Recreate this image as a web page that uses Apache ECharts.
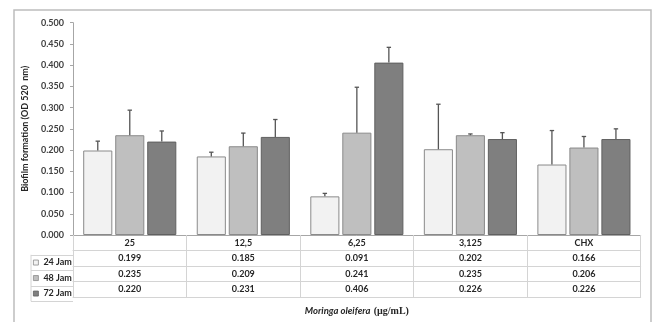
<!DOCTYPE html>
<html>
<head>
<meta charset="utf-8">
<script src="https://cdn.jsdelivr.net/npm/echarts@6/dist/echarts.min.js"></script>
<style>
  html, body { margin: 0; padding: 0; background: #fff; }
  #chart { width: 656px; height: 322px; }
</style>
</head>
<body>
<div id="chart"></div>
<script>
// Concentrations of Moringa oleifera extract (and CHX control)
const categories = ['25', '12,5', '6,25', '3,125', 'CHX'];
const seriesNames = ['24 Jam', '48 Jam', '72 Jam'];

// Mean biofilm formation (OD 520 nm)
const jam24 = [0.199, 0.185, 0.091, 0.202, 0.166];
const jam48 = [0.235, 0.209, 0.241, 0.235, 0.206];
const jam72 = [0.220, 0.231, 0.406, 0.226, 0.226];

// Standard deviation (upper whisker)
const err24 = [0.022, 0.010, 0.007, 0.106, 0.080];
const err48 = [0.059, 0.031, 0.107, 0.003, 0.026];
const err72 = [0.025, 0.041, 0.036, 0.015, 0.024];

const yTicks = [0, 0.05, 0.1, 0.15, 0.2, 0.25, 0.3, 0.35, 0.4, 0.45, 0.5];

const means = [jam24, jam48, jam72];
const errs = [err24, err48, err72];
const colors = ['#f2f2f2', '#bfbfbf', '#7f7f7f'];
const borders = ['#8a8a8a', '#8a8a8a', '#606060'];

const FONT = 'Lato';
const G = { left: 73, right: 15.3, top: 22.7, bottom: 82.7 };
const ROW = 15.5;
const BAR_CAT_GAP = 0.18, BAR_GAP = 0.10;

const chart = echarts.init(document.getElementById('chart'), null, { renderer: 'canvas' });

const baseY = 322 - G.bottom;

// Header row + one axis per data row + closing line of the table
const tableRows = [categories].concat(means.map(arr => arr.map(v => v.toFixed(3))));
const xAxes = tableRows.map((row, r) => ({
  type: 'category',
  data: categories,
  position: 'bottom',
  offset: r * ROW,
  gridIndex: 0,
  axisLine: { show: true, lineStyle: { color: r === 0 ? '#a6a6a6' : '#d4d4d4', width: 1 } },
  axisTick: { show: true, interval: 0, inside: false, length: ROW, lineStyle: { color: '#d4d4d4', width: 1 } },
  axisLabel: {
    interval: 0, margin: 2.5,
    fontFamily: FONT, fontWeight: 'bold', fontSize: 9, color: '#262626', lineHeight: 11,
    formatter: (v, i) => row[i]
  },
  splitLine: { show: false }
}));
xAxes.push({
  type: 'category',
  data: categories,
  position: 'bottom',
  offset: tableRows.length * ROW,
  axisLine: { show: true, lineStyle: { color: '#d4d4d4', width: 1 } },
  axisTick: { show: false },
  axisLabel: { show: false },
  name: '{i|Moringa oleifera} {s|(µg/mL)}',
  nameLocation: 'middle',
  nameGap: 8,
  nameTextStyle: {
    rich: {
      i: { fontFamily: FONT, fontStyle: 'italic', fontWeight: 'bold', fontSize: 9.5, color: '#262626' },
      s: { fontFamily: 'Liberation Serif', fontWeight: 'bold', fontSize: 10, color: '#262626' }
    }
  }
});

// Upper whiskers, placed over each bar of a group
function errorSeries(k) {
  return {
    type: 'custom',
    name: seriesNames[k] + ' SD',
    xAxisIndex: 0,
    z: 5,
    silent: true,
    data: means[k].map((v, i) => [i, v, v + errs[k][i]]),
    renderItem: function (params, api) {
      const band = api.size([1, 0])[0];
      const usable = band * (1 - BAR_CAT_GAP);
      const bw = usable / (3 + 2 * BAR_GAP);
      const start = -usable / 2 + bw / 2;
      const off = start + k * bw * (1 + BAR_GAP);
      const base = api.coord([api.value(0), api.value(1)]);
      const top = api.coord([api.value(0), api.value(2)]);
      const x = base[0] + off;
      const cap = 2.2;
      const style = { stroke: '#555', lineWidth: 1.3 };
      return {
        type: 'group',
        children: [
          { type: 'line', shape: { x1: x, y1: base[1], x2: x, y2: top[1] }, style: style },
          { type: 'line', shape: { x1: x - cap, y1: top[1], x2: x + cap, y2: top[1] }, style: style }
        ]
      };
    }
  };
}

const legendTop = baseY + ROW;
const legends = seriesNames.map((n, k) => ({
  data: [n],
  left: 33,
  top: legendTop + (k + 1) * ROW - ROW / 2 - 5.5,
  orient: 'vertical',
  itemWidth: 5,
  itemHeight: 5,
  itemGap: 0,
  padding: 0,
  icon: 'rect',
  selectedMode: false,
  itemStyle: { borderWidth: 0.8 },
  textStyle: { fontFamily: FONT, fontWeight: 'bold', fontSize: 9, color: '#262626', lineHeight: 11 }
}));

// Legend column of the data table
const tableLeft = 31;
const graphics = [
  { type: 'rect', shape: { x: 14, y: 10, width: 637, height: 330 }, style: { fill: 'none', stroke: '#bdbdbd', lineWidth: 1.5 }, silent: true },
  { type: 'line', shape: { x1: tableLeft, y1: legendTop, x2: tableLeft, y2: legendTop + 3 * ROW }, style: { stroke: '#d4d4d4', lineWidth: 1 }, silent: true }
];
for (let r = 0; r <= 3; r++) {
  const y = Math.round(legendTop + r * ROW) + 0.5;
  graphics.push({ type: 'line', shape: { x1: tableLeft, y1: y, x2: G.left, y2: y }, style: { stroke: '#d4d4d4', lineWidth: 1 }, silent: true });
}

const option = {
  backgroundColor: '#ffffff',
  animation: false,
  grid: { left: G.left, right: G.right, top: G.top, bottom: G.bottom, containLabel: false },
  legend: legends,
  xAxis: xAxes,
  yAxis: {
    type: 'value',
    min: yTicks[0],
    max: yTicks[yTicks.length - 1],
    interval: 0.05,
    name: 'Biofilm formation (OD 520  nm)',
    nameLocation: 'middle',
    nameGap: 35,
    nameTextStyle: { fontFamily: FONT, fontWeight: 'bold', fontSize: 9, color: '#262626' },
    axisLine: { show: true, lineStyle: { color: '#a6a6a6', width: 1 } },
    axisTick: { show: true, length: 3, lineStyle: { color: '#a6a6a6' } },
    axisLabel: {
      margin: 9, fontFamily: FONT, fontWeight: 'bold', fontSize: 9, color: '#404040',
      formatter: v => v.toFixed(3)
    },
    splitLine: { show: false }
  },
  series: seriesNames.map((n, k) => ({
    type: 'bar',
    name: n,
    xAxisIndex: 0,
    data: means[k],
    barCategoryGap: (BAR_CAT_GAP * 100) + '%',
    barGap: (BAR_GAP * 100) + '%',
    itemStyle: { color: colors[k], borderColor: borders[k], borderWidth: 1 }
  })).concat([0, 1, 2].map(errorSeries)),
  graphic: graphics
};

chart.setOption(option);
</script>
</body>
</html>
